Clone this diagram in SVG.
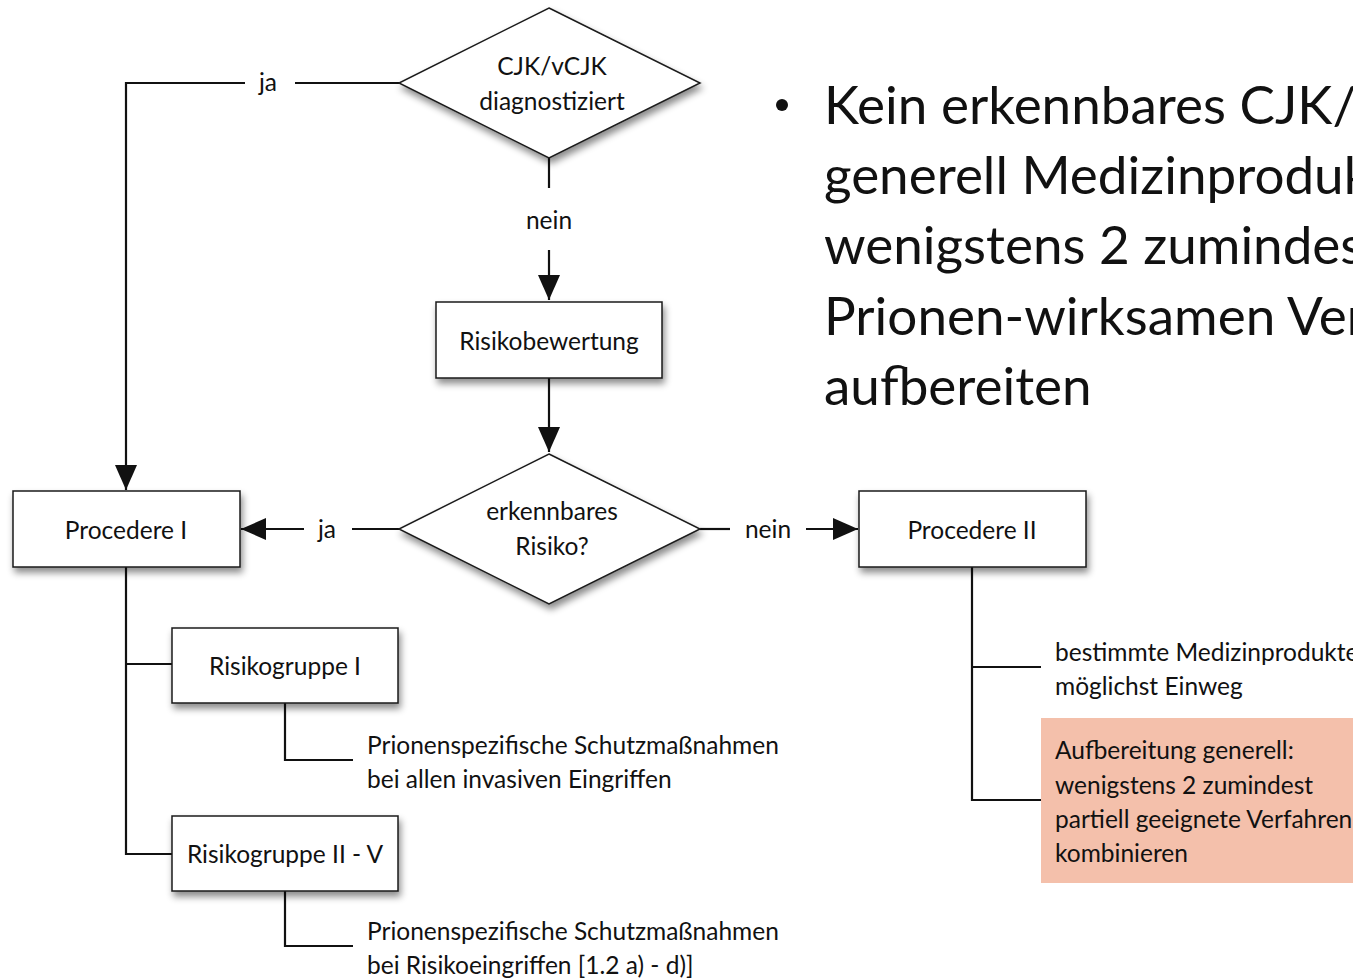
<svg xmlns="http://www.w3.org/2000/svg" width="1353" height="978" viewBox="0 0 1353 978">
<style>
text{font-family:Lato,"Open Sans","Liberation Sans",sans-serif;fill:#111;}
.t{font-size:24.5px;text-anchor:middle;}
.l{font-size:24.5px;}
.big{font-size:53px;}
.shape{fill:#fff;stroke:#1a1a1a;stroke-width:1.5;}
.c{fill:none;stroke:#111;stroke-width:2.2;}
</style>
<defs>
<filter id="sh" x="-20%" y="-20%" width="140%" height="160%">
<feDropShadow dx="2" dy="5" stdDeviation="3.5" flood-color="#000" flood-opacity="0.45"/>
</filter>
<marker id="arr" markerUnits="userSpaceOnUse" markerWidth="26" markerHeight="22" refX="25" refY="11" orient="auto">
<path d="M0,0 L25,11 L0,22 Z" fill="#111"/>
</marker>
</defs>
<rect width="1353" height="978" fill="#fff"/>

<g id="connectors">
<polyline class="c" points="399,83 295,83"/>
<polyline class="c" points="245,83 126,83 126,490" marker-end="url(#arr)"/>
<polyline class="c" points="549,158 549,188"/>
<polyline class="c" points="549,250 549,300" marker-end="url(#arr)"/>
<polyline class="c" points="549,378 549,452" marker-end="url(#arr)"/>
<polyline class="c" points="399,529 352,529"/>
<polyline class="c" points="304,529 241,529" marker-end="url(#arr)"/>
<polyline class="c" points="700,529 730,529"/>
<polyline class="c" points="806,529 858,529" marker-end="url(#arr)"/>
<polyline class="c" points="126,567 126,854 172,854"/>
<polyline class="c" points="126,664 172,664"/>
<polyline class="c" points="285,703 285,760 353,760"/>
<polyline class="c" points="285,891 285,946 353,946"/>
<polyline class="c" points="972,567 972,800 1041,800"/>
<polyline class="c" points="972,667 1041,667"/>
<text class="t" x="268" y="91">ja</text>
<text class="t" x="549" y="229">nein</text>
<text class="t" x="327" y="538">ja</text>
<text class="t" x="768" y="538">nein</text>
</g>

<g id="d1">
<polygon class="shape" filter="url(#sh)" points="549,8 700,83 549,158 399,83"/>
<text class="t" x="552" y="75">CJK/vCJK</text>
<text class="t" x="552" y="110">diagnostiziert</text>
</g>

<g id="risikobewertung">
<rect class="shape" filter="url(#sh)" x="436" y="302" width="226" height="76"/>
<text class="t" x="549" y="350">Risikobewertung</text>
</g>

<g id="d2">
<polygon class="shape" filter="url(#sh)" points="549,454 700,529 549,604 399,529"/>
<text class="t" x="552" y="520">erkennbares</text>
<text class="t" x="552" y="555">Risiko?</text>
</g>

<g id="procedere1">
<rect class="shape" filter="url(#sh)" x="13" y="491" width="227" height="76"/>
<text class="t" x="126" y="539">Procedere I</text>
</g>

<g id="procedere2">
<rect class="shape" filter="url(#sh)" x="859" y="491" width="227" height="76"/>
<text class="t" x="972" y="539">Procedere II</text>
</g>

<g id="rg1">
<rect class="shape" filter="url(#sh)" x="172" y="628" width="226" height="75"/>
<text class="t" x="285" y="675">Risikogruppe I</text>
</g>

<g id="rg2">
<rect class="shape" filter="url(#sh)" x="172" y="816" width="226" height="75"/>
<text class="t" x="285" y="863">Risikogruppe II - V</text>
</g>

<g id="note1">
<text class="l" x="367" y="754">Prionenspezifische Schutzmaßnahmen</text>
<text class="l" x="367" y="788">bei allen invasiven Eingriffen</text>
</g>

<g id="note2">
<text class="l" x="367" y="940">Prionenspezifische Schutzmaßnahmen</text>
<text class="l" x="367" y="974">bei Risikoeingriffen [1.2 a) - d)]</text>
</g>

<g id="note3">
<text class="l" x="1055" y="661">bestimmte Medizinprodukte</text>
<text class="l" x="1055" y="695">möglichst Einweg</text>
</g>

<g id="note4">
<rect x="1041" y="718" width="320" height="165" fill="#F4C0AB"/>
<text class="l" x="1055" y="759">Aufbereitung generell:</text>
<text class="l" x="1055" y="794">wenigstens 2 zumindest</text>
<text class="l" x="1055" y="828">partiell geeignete Verfahren</text>
<text class="l" x="1055" y="862">kombinieren</text>
</g>

<g id="bullet">
<circle cx="782" cy="105" r="6" fill="#111"/>
<text class="big" x="824" y="124">Kein erkennbares CJK/vCJK-Risiko:</text>
<text class="big" x="824" y="194">generell Medizinprodukte mit</text>
<text class="big" x="824" y="264">wenigstens 2 zumindest partiell</text>
<text class="big" x="824" y="335">Prionen-wirksamen Verfahren</text>
<text class="big" x="824" y="405">aufbereiten</text>
</g>
</svg>
